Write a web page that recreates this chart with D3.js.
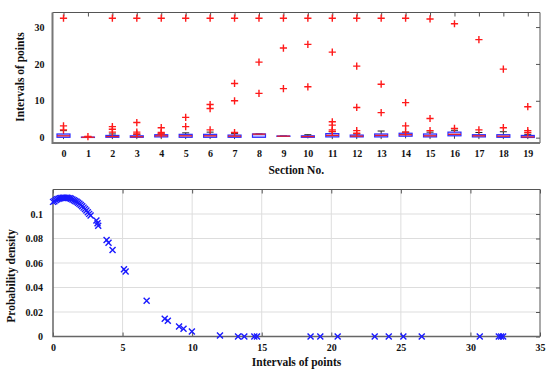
<!DOCTYPE html>
<html>
<head>
<meta charset="utf-8">
<script src="https://cdn.jsdelivr.net/npm/d3@7"></script>
<style>
  body { margin: 0; background: #fff; }
  svg { display: block; }
  svg text { font-family: "Liberation Serif", "Times New Roman", serif; font-weight: bold; }
</style>
</head>
<body>
<svg width="550" height="374"></svg>
<script>
let width = 550, height = 374;
let svg = d3.select("svg");

// ---- top plot data: box stats per section ----
let sections = d3.range(20);
let q1 =     [0.1, 0.05, 0.1, 0.1, 0.2, 0.1, 0.1, 0.1, 0.1, 0.35, 0.1, 0.2, 0.2, 0.2, 0.4, 0.2, 0.5, 0.2, 0.1, 0.05];
let median = [0.5, 0.1, 0.3, 0.25, 0.5, 0.5, 0.5, 0.4, 0.95, 0.4, 0.3, 0.6, 0.4, 0.6, 0.8, 0.5, 0.9, 0.5, 0.4, 0.2];
let q3 =     [1.0, 0.15, 0.6, 0.5, 0.8, 0.9, 0.9, 0.7, 1.0, 0.45, 0.5, 1.1, 0.7, 1.0, 1.2, 1.0, 1.5, 0.8, 0.8, 0.6];
let whiskLo = [-0.4, 0, -0.4, -0.4, -0.4, -0.4, -0.4, -0.4, 0.1, 0.35, -0.2, -0.4, -0.4, -0.4, -0.2, -0.4, -0.3, -0.4, -0.4, -0.4];
let whiskHi = [1.9, 0.2, 1.0, 0.9, 1.0, 1.3, 1.5, 1.1, 1.0, 0.45, 0.8, 1.6, 1.0, 1.8, 1.5, 1.5, 2.0, 1.4, 1.6, 0.9];
let outliers = [
  [32.4, 3.2, 2.1],
  [0.3],
  [32.4, 3.0, 2.3, 1.5],
  [32.4, 4.1, 1.5, 1.0],
  [32.4, 2.7, 1.4, 1.0],
  [32.4, 5.5, 3.0],
  [32.4, 9.0, 7.9, 2.1],
  [32.4, 14.7, 10.0, 1.4],
  [32.4, 20.5, 12.0],
  [32.4, 24.3, 13.3],
  [32.4, 25.3, 13.8],
  [32.4, 23.2, 4.3, 3.4, 2.1, 1.7],
  [32.4, 19.4, 8.2, 1.9, 1.2],
  [32.4, 14.5, 6.8],
  [32.4, 9.5, 3.2, 1.5],
  [32.2, 5.2, 1.9],
  [30.9, 2.5],
  [26.6, 2.1],
  [18.6, 2.7],
  [8.4, 1.9, 1.4]
];
let topYTicks = [0, 10, 20, 30];

// ---- bottom plot data: probability density points ----
let pdfX = [0, 0.1, 0.2, 0.3, 0.4, 0.5, 0.6, 0.7, 0.8, 0.9, 1.0, 1.1, 1.2, 1.3, 1.4, 1.5, 1.6, 1.7, 1.8, 1.9,
            2.0, 2.1, 2.2, 2.3, 2.4, 2.5, 2.6, 2.7,
            3.12, 3.2, 3.25, 3.85, 3.99, 4.28, 5.1, 5.22, 6.73, 8.03, 8.25, 9.06, 9.38, 9.98, 12.0,
            13.3, 13.75, 14.47, 14.66, 18.51, 19.21, 20.46, 23.12, 24.13, 25.18, 26.5, 30.67, 32.04, 32.2, 32.35];
let pdfY = [0.1099, 0.1105, 0.1114, 0.1120, 0.1125, 0.1128, 0.1131, 0.1132, 0.1133, 0.1133, 0.1132, 0.1131,
            0.1128, 0.1124, 0.1119, 0.1113, 0.1107, 0.1100, 0.1092, 0.1083, 0.1073, 0.1063, 0.1052, 0.1040,
            0.1028, 0.1015, 0.1001, 0.0988,
            0.0946, 0.0924, 0.0905, 0.0788, 0.0766, 0.0707, 0.0549, 0.053, 0.0291, 0.0144, 0.0128, 0.0082,
            0.0063, 0.0041, 0.0008, 0, 0, 0, 0, 0, 0, 0, 0, 0, 0, 0, 0, 0, 0, 0];
let botXTicks = [0, 5, 10, 15, 20, 25, 30, 35];
let botYTicks = [0, 0.02, 0.04, 0.06, 0.08, 0.1];

let frameColor = "#555";
let serif = "'Liberation Serif', 'Times New Roman', serif";

function styleAxis(g) {
    g.attr("font-family", serif).attr("font-size", 10).attr("font-weight", "bold");
    g.select(".domain").remove();
    g.selectAll(".tick line").attr("stroke", frameColor);
    g.selectAll(".tick text").attr("fill", "#111");
}

// ================= top plot =================
let t = { left: 52.5, right: 540, top: 12.5, bottom: 143 };
let xTop = d3.scaleLinear().domain([-0.45, 19.5]).range([t.left, t.right]);
let yTop = d3.scaleLinear().domain([-1.45, 33.95]).range([t.bottom, t.top]);

let gTop = svg.append("g");

// ticks on top (inward) and right (inward)
gTop.append("g")
    .attr("transform", "translate(0," + t.top + ")")
    .call(d3.axisBottom(xTop).tickValues(sections).tickSize(4).tickFormat(""))
    .call(styleAxis);
gTop.append("g")
    .attr("transform", "translate(" + t.right + ",0)")
    .call(d3.axisLeft(yTop).tickValues(topYTicks).tickSize(4).tickFormat(""))
    .call(styleAxis);
// bottom axis with labels
gTop.append("g")
    .attr("transform", "translate(0," + t.bottom + ")")
    .call(d3.axisBottom(xTop).tickValues(sections).tickSize(0).tickPadding(7).tickFormat(d3.format("d")))
    .call(styleAxis);
gTop.append("g")
    .attr("transform", "translate(" + t.left + ",0)")
    .call(d3.axisLeft(yTop).tickValues(topYTicks).tickSize(0).tickPadding(8))
    .call(styleAxis);

// frame
gTop.append("path")
    .attr("d", "M" + t.left + "," + t.top + "H" + t.right + "V" + t.bottom)
    .attr("fill", "none").attr("stroke", frameColor).attr("stroke-width", 1);
gTop.append("path")
    .attr("d", "M" + t.left + "," + t.top + "V" + t.bottom + "H" + t.right)
    .attr("fill", "none").attr("stroke", "#777").attr("stroke-width", 2);

let bw = 6.5;
let boxes = gTop.append("g").selectAll("g").data(sections).enter().append("g");
// lower whisker
boxes.append("line")
    .attr("x1", d => xTop(d)).attr("x2", d => xTop(d))
    .attr("y1", d => yTop(q1[d])).attr("y2", d => yTop(whiskLo[d]))
    .attr("stroke", "#444").attr("stroke-width", 1);
// upper whisker
boxes.append("line")
    .attr("x1", d => xTop(d)).attr("x2", d => xTop(d))
    .attr("y1", d => yTop(q3[d])).attr("y2", d => yTop(whiskHi[d]))
    .attr("stroke", "#222").attr("stroke-width", 1);
boxes.append("line")
    .attr("x1", d => xTop(d) - 3.5).attr("x2", d => xTop(d) + 3.5)
    .attr("y1", d => yTop(whiskHi[d])).attr("y2", d => yTop(whiskHi[d]))
    .attr("stroke", "#222").attr("stroke-width", 1);
// box
boxes.append("rect")
    .attr("x", d => xTop(d) - bw)
    .attr("width", bw * 2)
    .attr("y", d => yTop(q3[d]))
    .attr("height", d => Math.max(0.1, yTop(q1[d]) - yTop(q3[d])))
    .attr("fill", "rgba(90,90,255,0.35)")
    .attr("stroke", "#2b2bff").attr("stroke-width", 1.2);
// median
boxes.append("line")
    .attr("x1", d => xTop(d) - bw).attr("x2", d => xTop(d) + bw)
    .attr("y1", d => yTop(median[d])).attr("y2", d => yTop(median[d]))
    .attr("stroke", "#e8202a").attr("stroke-width", 1.3);

// outliers as red +
let outPts = [];
sections.forEach(s => outliers[s].forEach(v => outPts.push({ s: s, v: v })));
let plusSize = 3.6;
gTop.append("g").selectAll("path").data(outPts).enter().append("path")
    .attr("d", d => {
        let cx = xTop(d.s), cy = yTop(d.v);
        return "M" + (cx - plusSize) + "," + cy + "H" + (cx + plusSize) +
               "M" + cx + "," + (cy - plusSize) + "V" + (cy + plusSize);
    })
    .attr("stroke", "#ff1a1a").attr("stroke-width", 1.4).attr("fill", "none");

svg.append("text")
    .attr("x", (t.left + t.right) / 2).attr("y", 174)
    .attr("text-anchor", "middle").attr("font-size", 11.5).attr("fill", "#111")
    .text("Section No.");
svg.append("text")
    .attr("transform", "translate(24," + 77 + ") rotate(-90)")
    .attr("text-anchor", "middle").attr("font-size", 11.5).attr("fill", "#111")
    .text("Intervals of points");

// ================= bottom plot =================
let b = { left: 53, right: 540, top: 189.5, bottom: 336.5 };
let xBot = d3.scaleLinear().domain([0, 35]).range([b.left, b.right]);
let yBot = d3.scaleLinear().domain([0, 0.12]).range([b.bottom, b.top]);

let gBot = svg.append("g");

// grid
gBot.append("g").selectAll("line").data(botXTicks.slice(1, -1)).enter().append("line")
    .attr("x1", d => xBot(d)).attr("x2", d => xBot(d))
    .attr("y1", b.top).attr("y2", b.bottom)
    .attr("stroke", "#ddd").attr("stroke-width", 1);
gBot.append("g").selectAll("line").data(botYTicks.slice(1)).enter().append("line")
    .attr("x1", b.left).attr("x2", b.right)
    .attr("y1", d => yBot(d)).attr("y2", d => yBot(d))
    .attr("stroke", "#ddd").attr("stroke-width", 1);

// inward ticks on all sides
gBot.append("g")
    .attr("transform", "translate(0," + b.top + ")")
    .call(d3.axisBottom(xBot).tickValues(botXTicks).tickSize(4).tickFormat(""))
    .call(styleAxis);
gBot.append("g")
    .attr("transform", "translate(" + b.right + ",0)")
    .call(d3.axisLeft(yBot).tickValues(botYTicks).tickSize(4).tickFormat(""))
    .call(styleAxis);
gBot.append("g")
    .attr("transform", "translate(0," + b.bottom + ")")
    .call(d3.axisTop(xBot).tickValues(botXTicks).tickSize(4).tickFormat(""))
    .call(styleAxis);
gBot.append("g")
    .attr("transform", "translate(0," + b.bottom + ")")
    .call(d3.axisBottom(xBot).tickValues(botXTicks).tickSize(0).tickPadding(7).tickFormat(d3.format("d")))
    .call(styleAxis);
gBot.append("g")
    .attr("transform", "translate(" + b.left + ",0)")
    .call(d3.axisLeft(yBot).tickValues(botYTicks).tickSize(0).tickPadding(10).tickFormat(d => d === 0 ? "0" : d3.format("~g")(d)))
    .call(styleAxis);

gBot.append("path")
    .attr("d", "M" + b.left + "," + b.top + "H" + b.right + "V" + b.bottom)
    .attr("fill", "none").attr("stroke", frameColor).attr("stroke-width", 1);
gBot.append("path")
    .attr("d", "M" + b.left + "," + b.top + "V" + b.bottom + "H" + b.right)
    .attr("fill", "none").attr("stroke", "#666").attr("stroke-width", 1.5);

// blue x markers
let xs = 3;
gBot.append("g").selectAll("path").data(pdfX.map((v, i) => [v, pdfY[i]])).enter().append("path")
    .attr("d", d => {
        let cx = xBot(d[0]), cy = yBot(d[1]);
        return "M" + (cx - xs) + "," + (cy - xs) + "L" + (cx + xs) + "," + (cy + xs) +
               "M" + (cx - xs) + "," + (cy + xs) + "L" + (cx + xs) + "," + (cy - xs);
    })
    .attr("stroke", "#1a1aff").attr("stroke-width", 1.4).attr("fill", "none");

svg.append("text")
    .attr("x", (b.left + b.right) / 2).attr("y", 366)
    .attr("text-anchor", "middle").attr("font-size", 11.5).attr("fill", "#111")
    .text("Intervals of points");
svg.append("text")
    .attr("transform", "translate(15," + 276 + ") rotate(-90)")
    .attr("text-anchor", "middle").attr("font-size", 11.5).attr("fill", "#111")
    .text("Probability density");
</script>
</body>
</html>
